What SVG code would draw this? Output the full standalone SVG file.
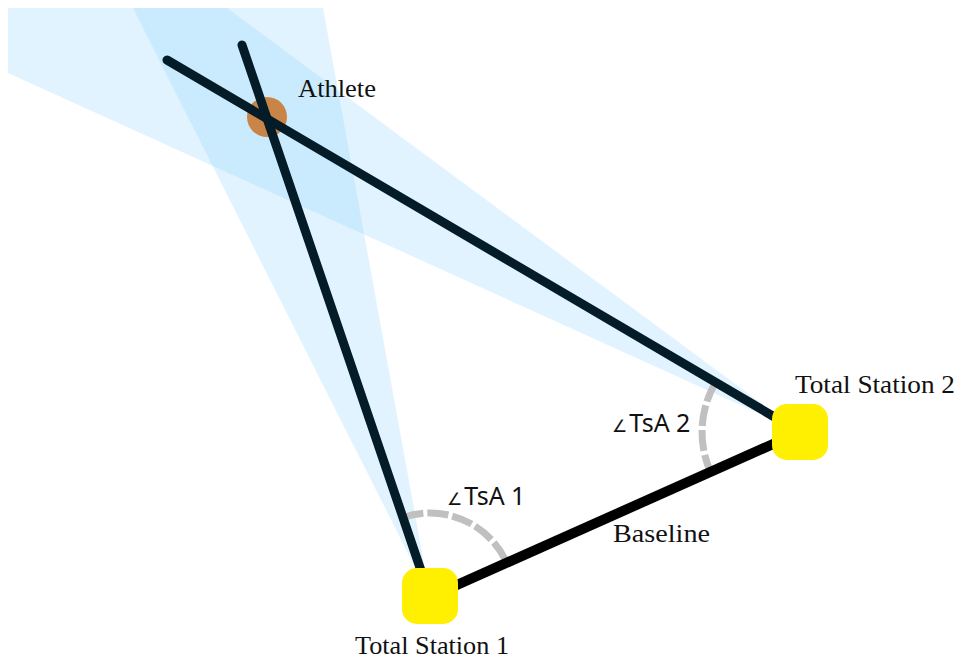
<svg xmlns="http://www.w3.org/2000/svg" width="958" height="662" viewBox="0 0 958 662">
  <style>
    .cone { fill: #87CEFA; fill-opacity: 0.25; }
    .sight { stroke: #031C27; stroke-width: 9; stroke-linecap: round; fill: none; }
    .base { stroke: #000; stroke-width: 10; stroke-linecap: butt; fill: none; }
    .arc { stroke: #C0C0C0; stroke-width: 7; fill: none; stroke-dasharray: 21 4; }
    .station { fill: #FFEF00; }
    .serif { font-family: "Liberation Serif", "Times New Roman", serif; font-size: 25px; fill: #111; }
    .sans { font-family: "Noto Sans", "DejaVu Sans", sans-serif; font-size: 25px; fill: #111; }
    .ang { font-family: "DejaVu Sans", sans-serif; font-size: 17px; }
  </style>
  <rect width="958" height="662" fill="#fff"/>
  <g id="cones">
    <polygon class="cone" points="430,597 133,8 323,8"/>
    <polygon class="cone" points="800,432 227,8 8,8 8,73"/>
  </g>
  <g id="athlete">
    <circle cx="267" cy="117" r="20" fill="#C98548"/>
    <text class="serif" x="298" y="97" textLength="78" lengthAdjust="spacingAndGlyphs">Athlete</text>
  </g>
  <g id="connectors">
    <path class="arc" d="M402.9,517.5 A84,84 0 0 1 506.7,562.8"/>
    <path class="arc" d="M715.5,382.4 A98,98 0 0 0 710.5,471.9"/>
    <line class="sight" x1="242" y1="45" x2="430" y2="597"/>
    <line class="sight" x1="167" y1="60" x2="800" y2="432"/>
    <line class="base" x1="430" y1="597" x2="800" y2="432"/>
    <text class="serif" x="613" y="542" textLength="97" lengthAdjust="spacingAndGlyphs">Baseline</text>
    <text class="sans" x="447" y="505"><tspan class="ang">∠</tspan><tspan dx="2">TsA 1</tspan></text>
    <text class="sans" x="612" y="432"><tspan class="ang">∠</tspan><tspan dx="2">TsA 2</tspan></text>
  </g>
  <g id="ts1">
    <rect class="station" x="402" y="568" width="56" height="56" rx="15"/>
    <text class="serif" x="355" y="654" textLength="154" lengthAdjust="spacingAndGlyphs">Total Station 1</text>
  </g>
  <g id="ts2">
    <rect class="station" x="772" y="404" width="56" height="56" rx="15"/>
    <text class="serif" x="795" y="393" textLength="160" lengthAdjust="spacingAndGlyphs">Total Station 2</text>
  </g>
</svg>
